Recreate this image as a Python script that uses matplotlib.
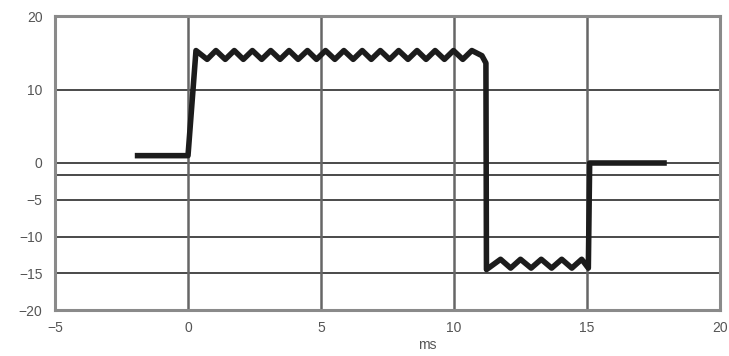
import matplotlib.pyplot as plt

# values (ms, signal)
pre_t = [-2.0, 0.0, 0.3]
pre_v = [1.0, 1.0, 15.3]

# top ripple: troughs and peaks
top_trough_t = [0.72, 1.40, 2.08, 2.77, 3.46, 4.14, 4.83, 5.52, 6.21, 6.89, 7.58, 8.27, 8.95, 9.64, 10.33]
top_peak_t = [1.05, 1.74, 2.42, 3.11, 3.80, 4.49, 5.17, 5.86, 6.55, 7.23, 7.92, 8.61, 9.29, 9.98, 10.67]
top_trough_v = 14.1
top_peak_v = 15.3

# fall edge
fall_t = [11.05, 11.2, 11.22]
fall_v = [14.6, 13.6, -14.5]

# bottom ripple
bot_peak_t = [11.75, 12.5, 13.28, 14.05, 14.8]
bot_trough_t = [12.13, 12.9, 13.67, 14.43, 15.05]
bot_peak_v = -13.1
bot_trough_v = -14.3

# rise back and tail
post_t = [15.1, 18.0]
post_v = [0.0, 0.0]

x_ticks = [-5, 0, 5, 10, 15, 20]
y_ticks = [20, 10, 0, -5, -10, -15, -20]
y_grid = [10, 0, -1.6, -5, -10, -15]
x_grid = [0, 5, 10, 15]

# stitch the trace together
t = list(pre_t)
v = list(pre_v)
for a, b in zip(top_trough_t, top_peak_t):
    t += [a, b]
    v += [top_trough_v, top_peak_v]
t += fall_t
v += fall_v
for a, b in zip(bot_peak_t, bot_trough_t):
    t += [a, b]
    v += [bot_peak_v, bot_trough_v]
t += post_t
v += post_v

plt.rcParams['font.family'] = ['Liberation Sans', 'DejaVu Sans']

fig = plt.figure(figsize=(7.29, 3.56), dpi=100)
ax = fig.add_axes([55 / 729, 1 - 310 / 356, 665 / 729, 294 / 356])

# grid
for g in y_grid:
    ax.axhline(g, color='#4a4a4a', lw=1.4, zorder=1)
for g in x_grid:
    ax.axvline(g, color='#666666', lw=1.8, zorder=1)

ax.plot(t, v, color='#1c1c1c', lw=4.0, solid_joinstyle='round',
        solid_capstyle='butt', zorder=3)

ax.set_xlim(-5, 20)
ax.set_ylim(-20, 20)
ax.set_xticks(x_ticks)
ax.set_yticks(y_ticks)
ax.tick_params(length=0, labelsize=10, labelcolor='#555555')
ax.tick_params(axis='y', pad=9)
ax.tick_params(axis='x', pad=8)

for s in ax.spines.values():
    s.set_color('#8a8a8a')
    s.set_linewidth(2.2)

ax.set_xlabel('ms', fontsize=10, color='#555555')
ax.xaxis.label.set_va('center')
ax.xaxis.set_label_coords(0.56, -0.119)

fig.savefig('out.png', dpi=100)
